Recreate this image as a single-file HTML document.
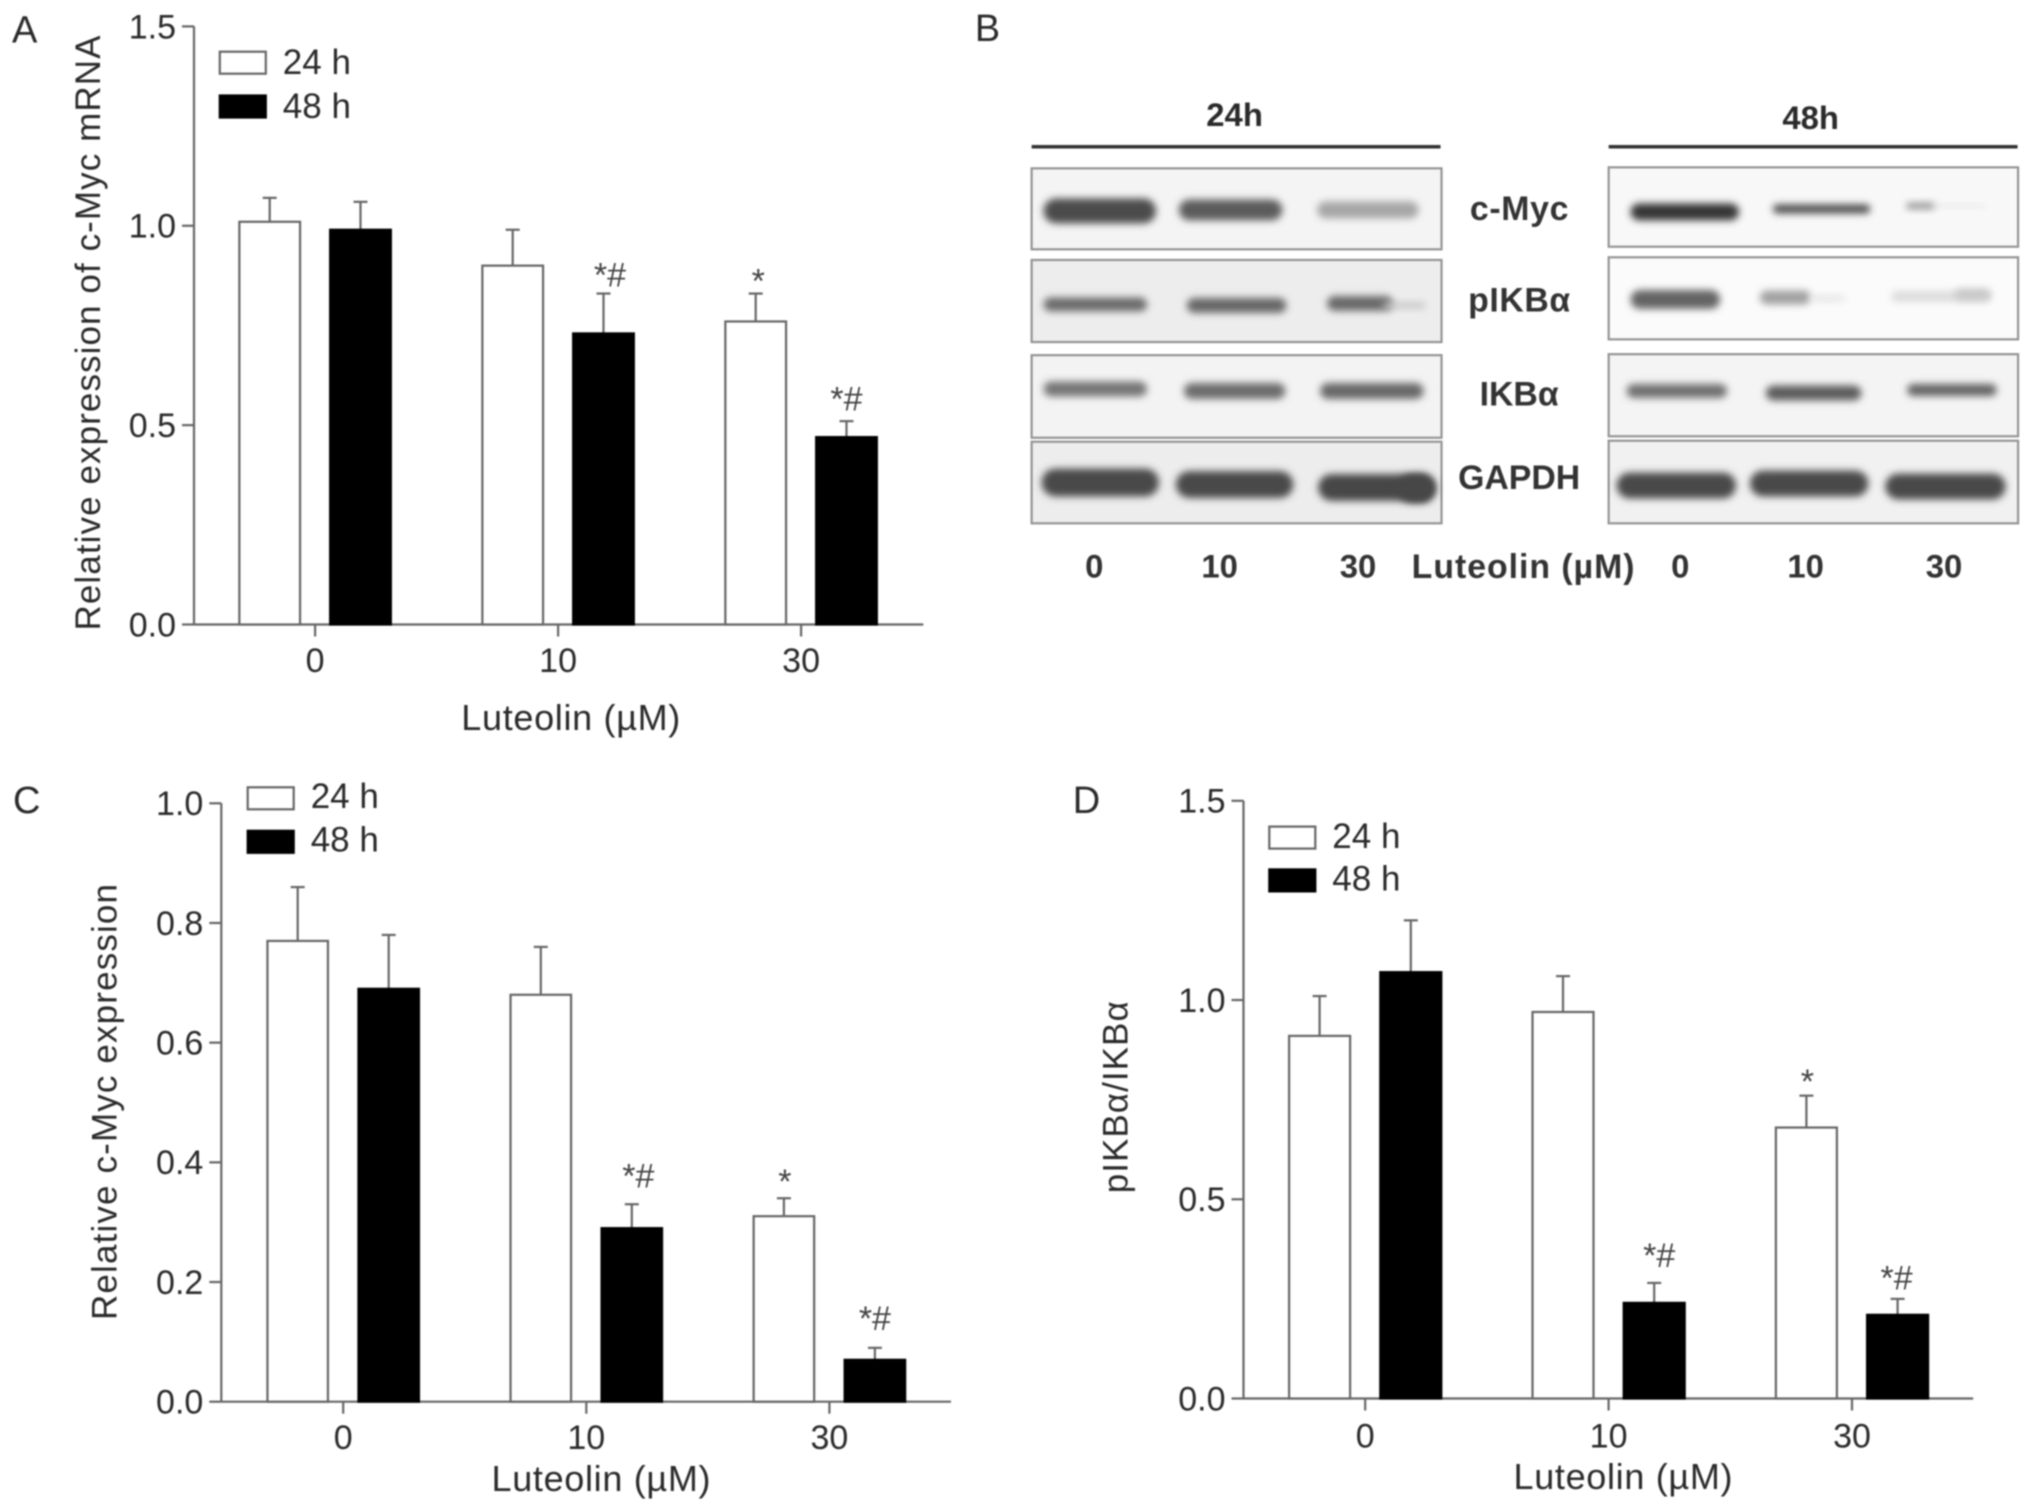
<!DOCTYPE html>
<html lang="en">
<head>
<meta charset="utf-8">
<title>Luteolin effects on c-Myc and IKBα</title>
<style>
html,body{margin:0;padding:0;background:#fff;}
#figure{display:block;width:2031px;height:1511px;filter:blur(0.7px);font-family:"Liberation Sans",sans-serif;}
</style>
</head>
<body>
<svg id="figure" xmlns="http://www.w3.org/2000/svg" width="2031" height="1511" viewBox="0 0 2031 1511">
<defs>
<filter id="bandBlur" x="-20%" y="-100%" width="140%" height="300%"><feGaussianBlur stdDeviation="3.8"></feGaussianBlur></filter>
</defs>
<rect x="0" y="0" width="2031" height="1511" fill="#fff"></rect>
</svg>
<script>
/* ---------- chart data ---------- */
const categories = ['0', '10', '30'];

const aValues24 = [1.01, 0.90, 0.76];
const aValues48 = [0.99, 0.73, 0.47];
const aErrors24 = [0.06, 0.09, 0.07];
const aErrors48 = [0.07, 0.10, 0.04];
const aMarks24 = ['', '', '*'];
const aMarks48 = ['', '*#', '*#'];
const aYTicks = [0, 0.5, 1.0, 1.5];

const cValues24 = [0.77, 0.68, 0.31];
const cValues48 = [0.69, 0.29, 0.07];
const cErrors24 = [0.09, 0.08, 0.03];
const cErrors48 = [0.09, 0.04, 0.02];
const cMarks24 = ['', '', '*'];
const cMarks48 = ['', '*#', '*#'];
const cYTicks = [0, 0.2, 0.4, 0.6, 0.8, 1.0];

const dValues24 = [0.91, 0.97, 0.68];
const dValues48 = [1.07, 0.24, 0.21];
const dErrors24 = [0.10, 0.09, 0.08];
const dErrors48 = [0.13, 0.05, 0.04];
const dMarks24 = ['', '', '*'];
const dMarks48 = ['', '*#', '*#'];
const dYTicks = [0, 0.5, 1.0, 1.5];

const seriesNames = ['24 h', '48 h'];

const svg = document.getElementById('figure');
const NS = 'http://www.w3.org/2000/svg';
const LINE = '#666666';
const LW = 2.2;
const INK = '#2a2a2a';

function mk(tag, attrs, name, parent) {
  const el = document.createElementNS(NS, tag);
  for (const k in attrs) el.setAttribute(k, attrs[k]);
  
  
  (parent || svg).appendChild(el);
  return el;
}

function txt(str, x, cy, size, anchor, name, parent, opts) {
  const o = opts || {};
  const attrs = {
    x: x,
    y: cy + size * 0.35,
    'font-size': size,
    'text-anchor': anchor,
    fill: o.fill || INK
  };
  if (o.weight) attrs['font-weight'] = o.weight;
  if (o.length) attrs.textLength = o.length;
  if (o.rotate) attrs.transform = 'rotate(-90 ' + x + ' ' + cy + ')';
  const el = mk('text', attrs, name, parent);
  el.textContent = str;
  return el;
}

function drawChart(p) {
  const g = mk('g', {}, p.id + '-chart');
  const y = v => p.y0 - v * (p.y0 - p.yTop) / p.yMax;
  const x = i => p.tick0 + i * p.step;

  txt(p.letter, p.letterX, p.letterY, 38, 'start', p.id + '-panel-label', g);

  /* axes */
  mk('line', {x1: p.axisX, x2: p.axisX, y1: p.yTop, y2: p.y0, stroke: LINE, 'stroke-width': LW}, p.id + '-y-axis', g);
  mk('line', {x1: p.axisX, x2: p.axisEnd, y1: p.y0, y2: p.y0, stroke: LINE, 'stroke-width': LW}, p.id + '-x-axis', g);

  p.yTicks.forEach(t => {
    mk('line', {x1: p.axisX - 12, x2: p.axisX, y1: y(t), y2: y(t), stroke: LINE, 'stroke-width': LW}, p.id + '-y-tick', g);
    txt(t.toFixed(1), p.axisX - 18, y(t), 34, 'end', p.id + '-y-tick-label', g);
  });

  categories.forEach((c, i) => {
    mk('line', {x1: x(i), x2: x(i), y1: p.y0, y2: p.y0 + 12, stroke: LINE, 'stroke-width': LW}, p.id + '-x-tick', g);
    txt(c, x(i), p.xLabelY, 34, 'middle', p.id + '-x-tick-label', g);
  });

  /* series */
  [[p.v24, p.e24, p.m24, -1, '#fff', '24h'], [p.v48, p.e48, p.m48, 1, '#000', '48h']].forEach(s => {
    s[0].forEach((v, i) => {
      const cx = x(i) + s[3] * p.offset;
      const top = y(v + s[1][i]);
      mk('line', {x1: cx, x2: cx, y1: top, y2: y(v), stroke: LINE, 'stroke-width': LW}, p.id + '-error-bar-' + s[5], g);
      mk('line', {x1: cx - 7, x2: cx + 7, y1: top, y2: top, stroke: LINE, 'stroke-width': LW}, p.id + '-error-cap-' + s[5], g);
      mk('rect', {
        x: cx - p.barW / 2, y: y(v), width: p.barW, height: p.y0 - y(v),
        fill: s[4], stroke: s[4] === '#000' ? '#000' : LINE, 'stroke-width': LW
      }, p.id + '-bar-' + s[5] + '-' + categories[i], g);
      const mark = s[2][i];
      if (mark) {
        /* hand-placed labels: each nudge is relative to the error-bar top */
        const nudge = mark === '*' ? p.starNudge : (i === 1 ? p.mid48Nudge : p.last48Nudge);
        const el = mk('text', {x: cx + nudge.dx, y: top - nudge.lift, 'font-size': 34, 'text-anchor': 'middle', fill: '#444'}, p.id + '-significance-mark', g);
        el.textContent = mark;
      }
    });
  });

  /* legend */
  seriesNames.forEach((n, i) => {
    const ly = i === 0 ? p.legend24Y : p.legend48Y;
    mk('rect', {x: p.legendX, y: ly - 11, width: 46, height: 22, fill: i === 0 ? '#fff' : '#000', stroke: i === 0 ? LINE : '#000', 'stroke-width': LW}, p.id + '-legend-swatch', g);
    txt(n, p.legendX + 63, ly + p.legendTextDy, 35, 'start', p.id + '-legend-label', g);
  });

  /* titles */
  txt(p.yTitle, p.yTitleX, p.yTitleY, 35, 'middle', p.id + '-y-axis-title', g, {rotate: true, length: p.yTitleLen});
  txt('Luteolin (µM)', p.xTitleX, p.xTitleY, 36, 'middle', p.id + '-x-axis-title', g, {length: 219});
}

drawChart({
  id: 'panel-a', letter: 'A', letterX: 12, letterY: 29,
  v24: aValues24, v48: aValues48, e24: aErrors24, e48: aErrors48, m24: aMarks24, m48: aMarks48,
  yTicks: aYTicks, yMax: 1.5, y0: 624.5, yTop: 26.4, axisX: 194, axisEnd: 923.3,
  tick0: 315.1, step: 243, offset: 45.4, barW: 60.7, xLabelY: 660,
  starNudge: {dx: 2.5, lift: 1.3}, mid48Nudge: {dx: 6.5, lift: 6.9}, last48Nudge: {dx: 0, lift: 10.8},
  legendX: 219.8, legend24Y: 62.7, legend48Y: 106.5, legendTextDy: -1,
  yTitle: 'Relative expression of c-Myc mRNA', yTitleX: 87.5, yTitleY: 333, yTitleLen: 595,
  xTitleX: 570.8, xTitleY: 717.3
});

drawChart({
  id: 'panel-c', letter: 'C', letterX: 13, letterY: 799.8,
  v24: cValues24, v48: cValues48, e24: cErrors24, e48: cErrors48, m24: cMarks24, m48: cMarks48,
  yTicks: cYTicks, yMax: 1.0, y0: 1401.7, yTop: 803.3, axisX: 221.3, axisEnd: 951,
  tick0: 343.2, step: 243.1, offset: 45.5, barW: 60.5, xLabelY: 1437,
  starNudge: {dx: 1, lift: 5.2}, mid48Nudge: {dx: 6.5, lift: 16.6}, last48Nudge: {dx: 0, lift: 18},
  legendX: 247.7, legend24Y: 798.3, legend48Y: 841.8, legendTextDy: -2.5,
  yTitle: 'Relative c-Myc expression', yTitleX: 104, yTitleY: 1102, yTitleLen: 436,
  xTitleX: 601, xTitleY: 1478.4
});

drawChart({
  id: 'panel-d', letter: 'D', letterX: 1072.8, letterY: 799.8,
  v24: dValues24, v48: dValues48, e24: dErrors24, e48: dErrors48, m24: dMarks24, m48: dMarks48,
  yTicks: dYTicks, yMax: 1.5, y0: 1398.5, yTop: 800.8, axisX: 1243.5, axisEnd: 1973.2,
  tick0: 1365.2, step: 243.4, offset: 45.6, barW: 61, xLabelY: 1435.5,
  starNudge: {dx: 1, lift: 2.6}, mid48Nudge: {dx: 5, lift: 16}, last48Nudge: {dx: -1, lift: 9.4},
  legendX: 1269.3, legend24Y: 837.6, legend48Y: 880.4, legendTextDy: -2,
  yTitle: 'pIKBα/IKBα', yTitleX: 1115.4, yTitleY: 1097.3, yTitleLen: 192,
  xTitleX: 1623, xTitleY: 1476.4
});

/* ---------- Western blot panel ---------- */
const blot = mk('g', {transform: 'translate(960 0) scale(0.9949) translate(-960 0)'}, 'panel-b-western-blot');
txt('B', 975, 28, 38, 'start', 'panel-b-panel-label', blot);

function membrane(name, x, y, w, h, bg) {
  mk('rect', {x: x, y: y, width: w, height: h, fill: bg, stroke: '#949494', 'stroke-width': 2.2}, name, blot);
}
function band(name, x1, x2, cy, h, color) {
  mk('rect', {x: x1, y: cy - h / 2, width: x2 - x1, height: h, rx: h / 2, fill: color, filter: 'url(#bandBlur)'}, name, blot);
}

[['24h', 1032, 1443, 1236, 115], ['48h', 1612, 2023, 1815, 118]].forEach(r => {
  txt(r[0], r[3], r[4], 33, 'middle', 'blot-timepoint-' + r[0], blot, {weight: 'bold'});
  mk('line', {x1: r[1], x2: r[2], y1: 147.5, y2: 147.5, stroke: '#333', 'stroke-width': 3.5}, 'blot-timepoint-bar-' + r[0], blot);
});

membrane('membrane-cmyc-24h', 1032, 169.2, 412, 81.4, '#f4f4f4');
membrane('membrane-pikba-24h', 1032, 261.3, 412, 82.5, '#ededed');
membrane('membrane-ikba-24h', 1032, 357, 412, 83, '#f3f3f3');
membrane('membrane-gapdh-24h', 1032, 444, 412, 82, '#ededed');
membrane('membrane-cmyc-48h', 1612, 168.2, 411.5, 79.8, '#f8f8f8');
membrane('membrane-pikba-48h', 1612, 258.6, 411.5, 82.5, '#fbfbfb');
membrane('membrane-ikba-48h', 1612, 356, 411.5, 82.5, '#f4f4f4');
membrane('membrane-gapdh-48h', 1612, 443, 411.5, 83, '#f1f1f1');

band('cmyc-24h-lane-0', 1044, 1157, 212, 25, '#4c4c4c');
band('cmyc-24h-lane-10', 1180, 1284, 211, 21, '#5c5c5c');
band('cmyc-24h-lane-30', 1319, 1421, 211, 17, '#a6a6a6');
band('pikba-24h-lane-0', 1044, 1148, 306, 14, '#6a6a6a');
band('pikba-24h-lane-10', 1188, 1288, 307, 15, '#666666');
band('pikba-24h-lane-30', 1329, 1395, 305, 15, '#686868');
band('pikba-24h-lane-30-tail', 1385, 1428, 307, 6, '#c4c4c4');
band('ikba-24h-lane-0', 1044, 1148, 391, 15, '#747474');
band('ikba-24h-lane-10', 1185, 1287, 393, 16, '#6c6c6c');
band('ikba-24h-lane-30', 1322, 1426, 393, 16, '#686868');
band('gapdh-24h-lane-0', 1042, 1160, 485, 28, '#484848');
band('gapdh-24h-lane-10', 1177, 1295, 487, 27, '#484848');
band('gapdh-24h-lane-30', 1320, 1437, 490, 27, '#464646');
band('gapdh-24h-lane-30-bulge', 1400, 1438, 491, 29, '#464646');
band('cmyc-48h-lane-0', 1634, 1743, 213, 17, '#343434');
band('cmyc-48h-lane-10', 1777, 1875, 210, 9, '#4a4a4a');
band('cmyc-48h-lane-30', 1911, 1940, 207, 6, '#888888');
band('cmyc-48h-lane-30-tail', 1940, 1990, 207, 3, '#e2e2e2');
band('pikba-48h-lane-0', 1634, 1724, 301, 19, '#646464');
band('pikba-48h-lane-10', 1764, 1815, 299, 14, '#a0a0a0');
band('pikba-48h-lane-10-tail', 1815, 1850, 300, 6, '#e4e4e4');
band('pikba-48h-lane-30', 1896, 1996, 298, 11, '#dcdcdc');
band('pikba-48h-lane-30-right', 1960, 1996, 296, 11, '#c8c8c8');
band('ikba-48h-lane-0', 1630, 1731, 393, 14, '#707070');
band('ikba-48h-lane-10', 1770, 1866, 395, 15, '#5c5c5c');
band('ikba-48h-lane-30', 1912, 2002, 392, 12, '#626262');
band('gapdh-48h-lane-0', 1620, 1740, 488, 26, '#484848');
band('gapdh-48h-lane-10', 1754, 1873, 486, 26, '#484848');
band('gapdh-48h-lane-30', 1890, 2011, 489, 26, '#484848');

txt('c-Myc', 1522, 209, 34, 'middle', 'blot-label-c-myc', blot, {weight: 'bold', length: 99, fill: '#333'});
txt('pIKBα', 1522, 301, 34, 'middle', 'blot-label-pikba', blot, {weight: 'bold', length: 102.5, fill: '#333'});
txt('IKBα', 1522, 395.5, 34, 'middle', 'blot-label-ikba', blot, {weight: 'bold', fill: '#333'});
txt('GAPDH', 1522, 479.5, 34, 'middle', 'blot-label-gapdh', blot, {weight: 'bold', fill: '#333'});

[[1095, '0'], [1221, '10'], [1360, '30'], [1684, '0'], [1810, '10'], [1949, '30']].forEach(l => {
  txt(l[1], l[0], 569, 33, 'middle', 'blot-dose-label', blot, {weight: 'bold', fill: '#333'});
});
txt('Luteolin (µM)', 1526, 569, 34, 'middle', 'blot-dose-title', blot, {weight: 'bold', length: 224, fill: '#333'});
</script>
</body>
</html>
